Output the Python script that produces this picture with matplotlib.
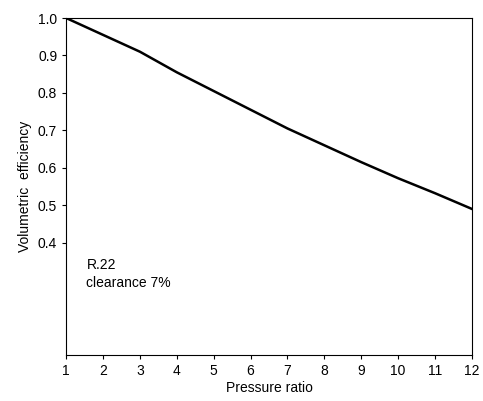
import numpy as np
import matplotlib
matplotlib.use('Agg')
import matplotlib.pyplot as plt

plt.rcParams['font.family'] = ['Liberation Sans', 'DejaVu Sans']

# values
pressure_ratio = [1, 2, 3, 4, 5, 6, 7, 8, 9, 10, 11, 12]
vol_eff = [1.0, 0.955, 0.91, 0.855, 0.805, 0.755, 0.705, 0.66, 0.615, 0.572, 0.532, 0.49]
y_ticks = [0.4, 0.5, 0.6, 0.7, 0.8, 0.9, 1.0]

fig = plt.figure(figsize=(4.83, 4.01), dpi=100)
ax = fig.add_axes([0.137, 0.115, 0.84, 0.84])

ax.plot(pressure_ratio, vol_eff, color='black', linewidth=1.8)
ax.set_xlim(1, 12)
ax.set_ylim(0.1, 1.0)
ax.set_xticks(pressure_ratio)
ax.set_yticks(y_ticks)
ax.set_yticklabels([f'{v:.1f}' for v in y_ticks])
ax.tick_params(labelsize=10, direction='out', length=3)
ax.set_xlabel('Pressure ratio', fontsize=10, labelpad=2)
ax.set_ylabel('Volumetric  efficiency', fontsize=10)
ax.text(1.55, 0.36, 'R.22\nclearance 7%', fontsize=10, va='top', linespacing=1.4)

fig.savefig('out.png')
